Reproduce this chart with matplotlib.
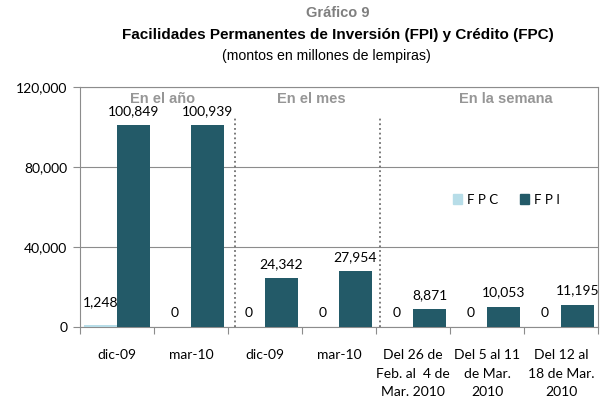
import matplotlib.pyplot as plt
from matplotlib.patches import Patch
import numpy as np

# data
categories = ['dic-09', 'mar-10', 'dic-09', 'mar-10',
              'Del 26 de\nFeb. al  4 de\nMar. 2010',
              'Del 5 al 11\nde Mar.\n2010',
              'Del 12 al\n18 de Mar.\n2010']
fpc = [1248, 0, 0, 0, 0, 0, 0]
fpi = [100849, 100939, 24342, 27954, 8871, 10053, 11195]
sections = ['En el año', 'En el mes', 'En la semana']

c_fpc = '#b7dde8'
c_fpi = '#235a68'
grid_c = '#8c8c8c'
num_font = ['Lato', 'DejaVu Sans']
title_font = ['Liberation Sans Narrow', 'Liberation Sans', 'DejaVu Sans']

fig = plt.figure(figsize=(6.11, 4.08), dpi=100)
ax = fig.add_axes([80/611, 81/408, 518/611, 240/408])

x = np.arange(len(categories))
w = 0.446
ax.bar(x - w/2, fpc, w, color=c_fpc, zorder=3)
ax.bar(x + w/2, fpi, w, color=c_fpi, zorder=3)

# value labels
for xi, v in zip(x - w/2, fpc):
    ax.annotate(f'{v:,}', (xi, v), xytext=(0, 12 if v else 6), textcoords='offset points',
                ha='center', va='bottom', fontsize=10, family=num_font)
for xi, v in zip(x + w/2, fpi):
    ax.annotate(f'{v:,}', (xi, v), xytext=(0, 6), textcoords='offset points',
                ha='center', va='bottom', fontsize=10, family=num_font)

ax.set_xlim(-0.5, 6.5)
ax.set_ylim(0, 120000)
ax.set_yticks([0, 40000, 80000, 120000])
ax.set_yticklabels(['0', '40,000', '80,000', '120,000'], family=num_font, fontsize=10)
ax.yaxis.grid(True, color=grid_c, lw=0.8, zorder=0)
ax.set_axisbelow(True)

ax.set_xticks(np.arange(-0.5, 7, 1), minor=False)
ax.set_xticklabels([])
ax.set_xticks(x, minor=True)
ax.set_xticklabels(categories, minor=True, family=num_font, fontsize=10,
                   linespacing=1.65, va='top')
ax.tick_params(axis='x', which='major', length=5, color=grid_c, direction='out')
ax.tick_params(axis='x', which='minor', length=0, pad=16)
ax.tick_params(axis='y', length=5, color=grid_c, pad=4)

for s in ['left', 'bottom', 'right', 'top']:
    ax.spines[s].set_color(grid_c)
    ax.spines[s].set_linewidth(0.8)

# separators
for sx in [1.6, 3.55]:
    ax.plot([sx, sx], [0, 104500], ls=(0, (1, 1.6)), color='#707070', lw=1.3, zorder=4)

for sx, txt in zip([0.62, 2.62, 5.26], sections):
    ax.text(sx, 114000, txt, ha='center', va='center', fontsize=10.5,
            fontweight='bold', color='#969696', family=title_font)

handles = [Patch(color=c_fpc), Patch(color=c_fpi)]
ax.legend(handles, ['F P C', 'F P I'], ncol=2, frameon=False,
          loc='center left', bbox_to_anchor=(0.697, 0.53),
          handlelength=0.7, handleheight=0.8, handletextpad=0.4,
          columnspacing=1.6, prop={'family': num_font, 'size': 9.5})

fig.text(0.553, 0.968, 'Gráfico 9', ha='center', va='center', fontsize=10.5,
         fontweight='bold', color='#7f7f7f', family=title_font)
fig.text(0.553, 0.914, 'Facilidades Permanentes de Inversión (FPI) y Crédito (FPC)',
         ha='center', va='center', fontsize=11, fontweight='bold', family=title_font)
fig.text(0.534, 0.863, '(montos en millones de lempiras)', ha='center', va='center',
         fontsize=10.2, family=title_font)

fig.savefig('out.png', dpi=100)
